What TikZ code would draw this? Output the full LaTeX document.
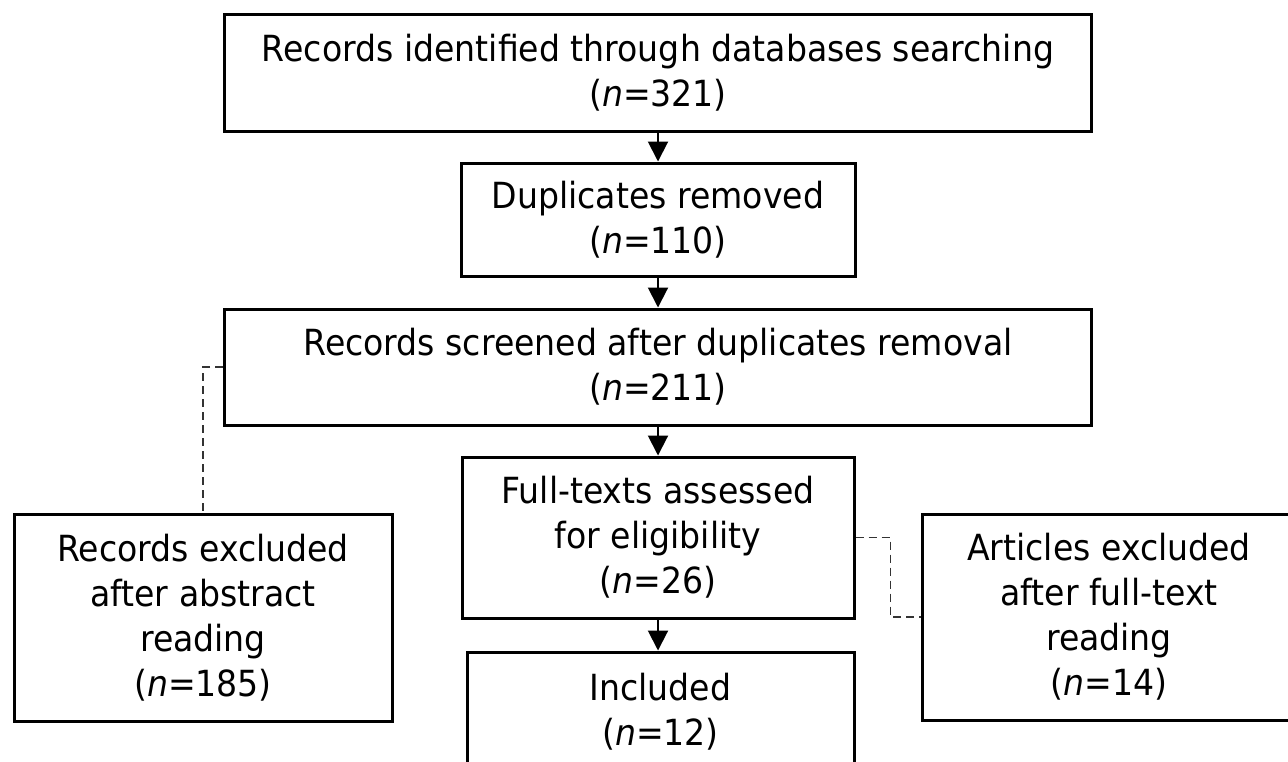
\documentclass[tikz,border=0pt]{standalone}
\usepackage{fontspec}
\setmainfont{DejaVu Sans}[FakeStretch=0.92]
\usetikzlibrary{arrows.meta}
\tikzset{
box/.style=
    {draw=black,
    line width=1.5pt,
    rectangle,
    align=center,
    inner sep=0pt,
    font=\fontsize{18}{22.5}\selectfont
    },
flow/.style=
    {draw=black,
    line width=1pt,
    -{Triangle[length=10pt,width=10pt]}
    },
skip/.style=
    {draw=black!80,
    line width=0.8pt,
    dash pattern=on 4pt off 2.5pt
    }}

\begin{document}
\begin{tikzpicture}[x=0.5pt,y=-0.5pt]
\useasboundingbox (0,0) rectangle (1288,761);
\clip (0,0) rectangle (1288,761);

\node[box,minimum width=433.5pt,minimum height=58.5pt] (ident) at (658,72.5)
    {Records identified through databases searching\\(\textit{n}=321)};
\node[box,minimum width=197pt,minimum height=56.5pt] (dup) at (658,219.5)
    {Duplicates removed\\(\textit{n}=110)};
\node[box,minimum width=433.5pt,minimum height=58pt] (screen) at (658,367)
    {Records screened after duplicates removal\\(\textit{n}=211)};
\node[box,minimum width=196pt,minimum height=80.5pt] (full) at (658,537.5)
    {Full-texts assessed\\for eligibility\\(\textit{n}=26)};
\node[box,minimum width=193.5pt,minimum height=60pt] (incl) at (660.5,712)
    {Included\\(\textit{n}=12)};
\node[box,minimum width=189pt,minimum height=103.5pt] (absx) at (203,617.5)
    {Records excluded\\after abstract\\reading\\(\textit{n}=185)};
\node[box,minimum width=187pt,minimum height=103pt] (ftx) at (1109,617)
    {Articles excluded\\after full-text\\reading\\(\textit{n}=14)};

% main flow
\draw[flow] (ident.south) -- (dup.north);
\draw[flow] (dup.south) -- (screen.north);
\draw[flow] (screen.south) -- (full.north);
\draw[flow] (full.south) -- (full.south |- incl.north);

% exclusions
\draw[skip] (screen.west) -| (absx.north);
\draw[skip] (full.east) -- ++(35,0) |- (ftx.west);

\end{tikzpicture}
\end{document}
